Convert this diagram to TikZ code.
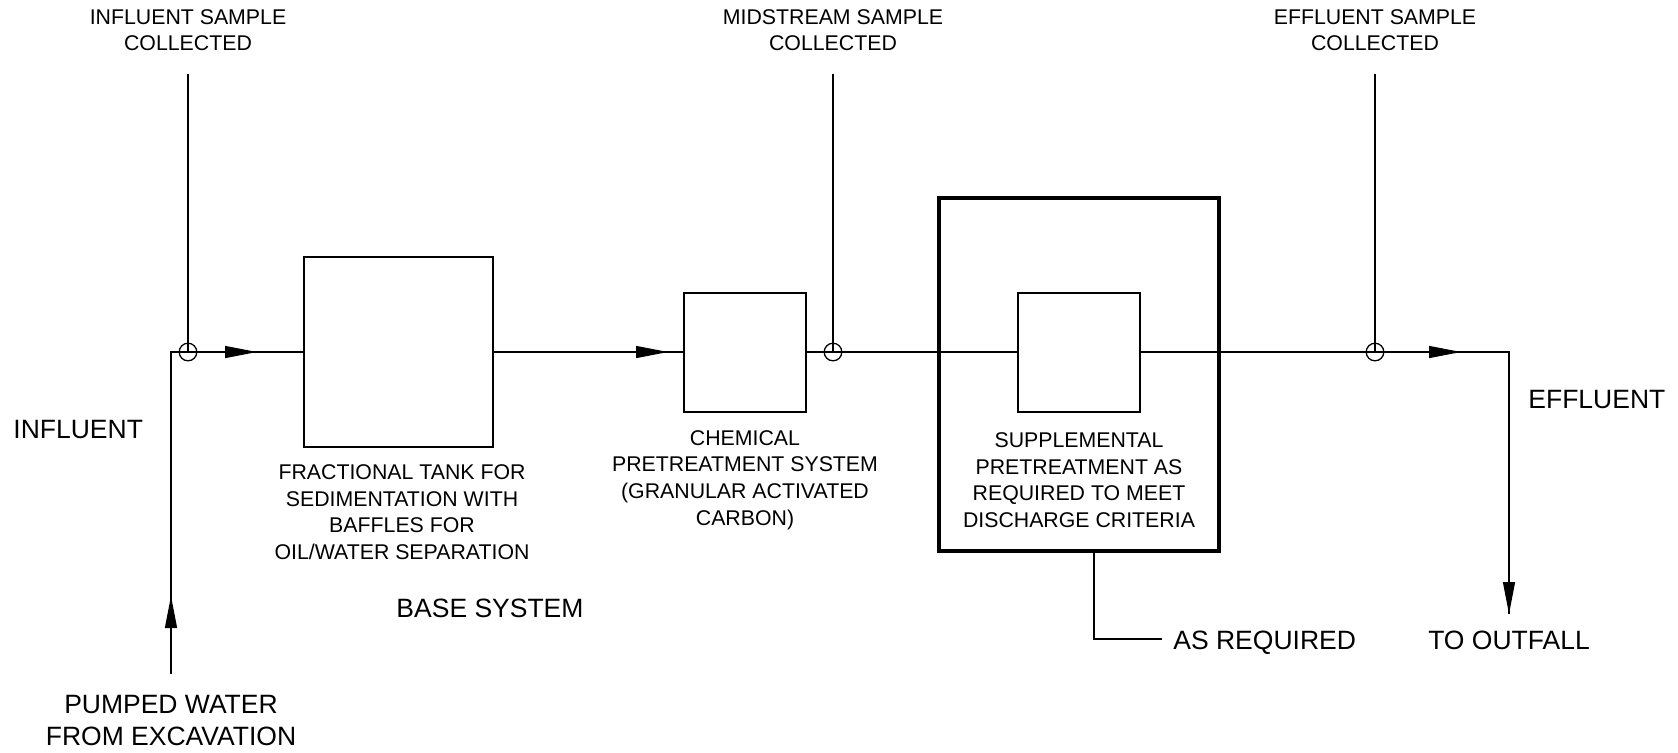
\documentclass[tikz,border=0pt]{standalone}
\usepackage{fontspec}
\setmainfont{Liberation Sans}
\usetikzlibrary{arrows.meta}
\begin{document}
\begin{tikzpicture}[x=0.5pt,y=-0.5pt,
  conn/.style={line width=0.65pt},
  flow/.style={line width=0.65pt,-{Triangle[length=16pt,width=6pt]}},
  unit/.style={draw,line width=1pt,inner sep=0pt},
  outer/.style={draw,line width=1.6pt,inner sep=0pt},
  tap/.style={draw,circle,line width=0.65pt,minimum size=8.8pt,inner sep=0pt},
  small/.style={font=\fontsize{10.65}{13.3}\selectfont,align=center,inner sep=0pt},
  big/.style={font=\fontsize{13.25}{16}\selectfont,align=center,inner sep=0pt}]
\useasboundingbox (0,0) rectangle (1678,752);
% boxes
\node[unit,minimum width=94.5pt,minimum height=95pt] (b1) at (398.5,352) {};
\node[unit,minimum width=61pt,minimum height=59.5pt] (b2) at (745,352) {};
\node[outer,minimum width=140pt,minimum height=176.5pt] (ob) at (1079,374.5) {};
\node[unit,minimum width=61pt,minimum height=59.5pt] (b3) at (1079,352) {};
% sample points
\node[tap] (c1) at (188,352) {};
\node[tap] (c2) at (833,352) {};
\node[tap] (c3) at (1375,352) {};
\coordinate (s1) at (188,74);
\coordinate (s2) at (833,74);
\coordinate (s3) at (1375,74);
% flow coordinates
\coordinate (p0) at (171,674);
\coordinate (p1) at (171,596);
\coordinate (k1) at (171,352);
\coordinate (t1) at (257,352);
\coordinate (t2) at (668,352);
\coordinate (t3) at (1461,352);
\coordinate (k2) at (1509,352);
\coordinate (t4) at (1509,614);
\coordinate (q1) at (1094,639);
\coordinate (q2) at (1162,639);
% texts
\node[small] (l1) at (188,30) {INFLUENT SAMPLE\\COLLECTED};
\node[small] (l2) at (833,30) {MIDSTREAM SAMPLE\\COLLECTED};
\node[small] (l3) at (1375,30) {EFFLUENT SAMPLE\\COLLECTED};
\node[small] (d1) at (402,512) {FRACTIONAL TANK FOR\\SEDIMENTATION WITH\\BAFFLES FOR\\OIL/WATER SEPARATION};
\node[small] (d2) at (745,480) {CHEMICAL\\PRETREATMENT SYSTEM\\(GRANULAR ACTIVATED\\CARBON)};
\node[small] (d3) at (1079,480) {SUPPLEMENTAL\\PRETREATMENT AS\\REQUIRED TO MEET\\DISCHARGE CRITERIA};
\node[big,anchor=west] (inf) at (13,429) {INFLUENT};
\node[big,anchor=west] (eff) at (1528,399) {EFFLUENT};
\node[big] (pw) at (171,720) {PUMPED WATER\\FROM EXCAVATION};
\node[big] (bs) at (490,608) {BASE SYSTEM};
\node[big,anchor=west,text depth=0pt] (ar) at (1173,640) {AS REQUIRED};
\node[big] (to) at (1509,640) {TO OUTFALL};
% connectors
\draw[conn] (p0) -- (k1) -- (b1.west);
\draw[conn] (b1.east) -- (b2.west);
\draw[conn] (b2.east) -- (b3.west);
\draw[conn] (b3.east) -- (k2) -- (t4);
\draw[flow] (p0) -- (p1);
\draw[flow] (c1.center) -- (t1);
\draw[flow] (b1.east) -- (t2);
\draw[flow] (c3.center) -- (t3);
\draw[flow] (k2) -- (t4);
\draw[conn] (s1) -- (c1.center);
\draw[conn] (s2) -- (c2.center);
\draw[conn] (s3) -- (c3.center);
\draw[conn] (ob.south -| q1) -- (q1) -- (q2);
\end{tikzpicture}
\end{document}
